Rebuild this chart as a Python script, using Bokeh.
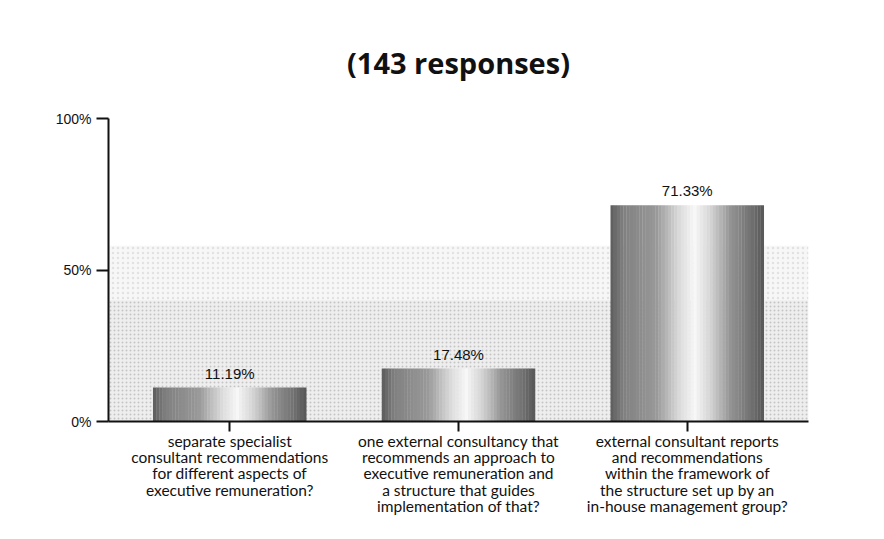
import numpy as np
from bokeh.plotting import figure
from bokeh.models import ColumnDataSource, FactorRange, FixedTicker, BoxAnnotation, LabelSet
from bokeh.core.properties import value
from bokeh.transform import dodge
from bokeh.embed import file_html
from bokeh.resources import INLINE

# ---- data ----
categories = [
    "separate specialist\nconsultant recommendations\nfor different aspects of\nexecutive remuneration?",
    "one external consultancy that\nrecommends an approach to\nexecutive remuneration and\na structure that guides\nimplementation of that?",
    "external consultant reports\nand recommendations\nwithin the framework of\nthe structure set up by an\nin-house management group?",
]
values = [11.19, 17.48, 71.33]
value_labels = ["11.19%", "17.48%", "71.33%"]
y_ticks = [0, 50, 100]
y_tick_labels = ["0%", "50%", "100%"]
title_text = "(143 responses)"

src = ColumnDataSource(dict(cat=categories, val=values, lab=value_labels))

p = figure(
    width=868, height=523,
    x_range=FactorRange(*categories, range_padding=0.02),
    y_range=(0, 100),
    output_backend="svg", toolbar_location=None,
    min_border_left=108, min_border_right=60,
    min_border_top=118, min_border_bottom=102,
    background_fill_color="white", border_fill_color="white",
)
p.outline_line_color = None
p.xgrid.grid_line_color = None
p.ygrid.grid_line_color = None

# title
p.title.text = title_text
p.title.align = "center"
p.title.text_font = "Open Sans"
p.title.text_font_style = "bold"
p.title.text_font_size = "29px"
p.title.text_color = "#111111"
p.title.standoff = 74

# soft halftone-like background behind bars
p.add_layout(BoxAnnotation(bottom=0, top=40, fill_color="#d4d4d4", fill_alpha=0.4,
                           line_color=None, hatch_pattern="dot", hatch_color="#999999",
                           hatch_alpha=0.5, hatch_scale=4, level="underlay"))
p.add_layout(BoxAnnotation(bottom=40, top=58, fill_color="#e8e8e8", fill_alpha=0.35,
                           line_color=None, hatch_pattern="dot", hatch_color="#bbbbbb",
                           hatch_alpha=0.35, hatch_scale=5, level="underlay"))

# cylindrical shaded bars made from thin vertical strips
bar_w = 0.67
n_strips = 48
ctrl_x = [0.0, 0.08, 0.3, 0.45, 0.55, 0.66, 0.78, 0.92, 1.0]
ctrl_b = [0.36, 0.50, 0.60, 0.86, 0.97, 0.82, 0.58, 0.44, 0.34]
for i in range(n_strips):
    f = (i + 0.5) / n_strips
    b = np.interp(f, ctrl_x, ctrl_b)
    g = int(round(255 * b))
    col = "#%02x%02x%02x" % (g, g, g)
    off = -bar_w / 2 + f * bar_w
    p.vbar(x=dodge("cat", off, range=p.x_range), top="val", bottom=0,
           width=bar_w / n_strips * 1.08, source=src,
           fill_color=col, line_color=None)

# value labels
p.add_layout(LabelSet(x="cat", y="val", text="lab", source=src,
                      text_align="center", text_baseline="bottom", y_offset=6,
                      text_font=value("Liberation Sans"), text_font_size=value("15px"),
                      text_color="#111111"))

# axes
ya = p.yaxis[0]
ya.ticker = FixedTicker(ticks=y_ticks)
ya.major_label_overrides = {t: l for t, l in zip(y_ticks, y_tick_labels)}
ya.minor_tick_line_color = None
ya.major_tick_in = 0
ya.major_tick_out = 12
ya.major_label_standoff = 5
ya.major_label_text_font = "Liberation Sans"
ya.major_label_text_font_size = "14px"
ya.major_label_text_color = "#111111"
ya.axis_line_width = 2
ya.major_tick_line_width = 2
ya.axis_line_color = "#111111"
ya.major_tick_line_color = "#111111"

xa = p.xaxis[0]
xa.major_tick_in = 0
xa.major_tick_out = 10
xa.major_label_standoff = 0
xa.major_label_text_font = "Lato"
xa.major_label_text_font_size = "15.5px"
xa.major_label_text_color = "#111111"
xa.major_label_text_align = "center"
xa.major_label_text_line_height = 0.91
xa.axis_line_width = 2
xa.major_tick_line_width = 2
xa.axis_line_color = "#111111"
xa.major_tick_line_color = "#111111"

open("out.html", "w").write(file_html(p, INLINE))
